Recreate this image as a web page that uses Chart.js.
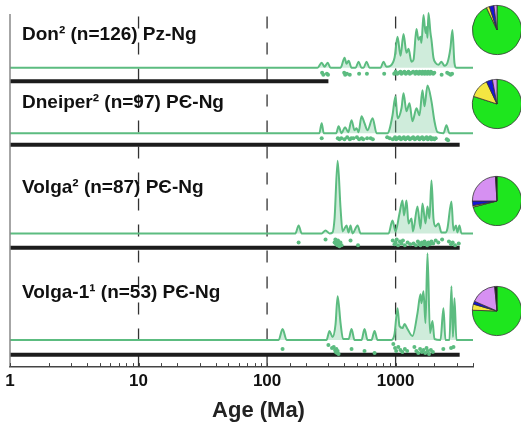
<!DOCTYPE html>
<html>
<head>
<meta charset="utf-8">
<script src="https://cdn.jsdelivr.net/npm/chart.js@4.4.1/dist/chart.umd.min.js"></script>
<style>
  html, body { margin: 0; padding: 0; background: #fff; overflow: hidden; }
  #wrap { position: relative; width: 521px; height: 427px; overflow: hidden; }
  #wrap canvas.pie { position: absolute; }
</style>
</head>
<body>
<div id="wrap">
  <canvas id="myChart" width="521" height="427"></canvas>
</div>
<script>
// panel titles, top to bottom
const panelNames = ['Don² (n=126) Pz-Ng', 'Dneiper² (n=97) PЄ-Ng', 'Volga² (n=87) PЄ-Ng', 'Volga-1¹ (n=53) PЄ-Ng'];
const axisTitle = 'Age (Ma)';

// age tick labels on the log axis
const ageLabels = [1, 10, 100, 1000];

// density curves: [age Ma, relative height]
const donCurve = [[1,0],[247,0],[266,5],[280,1],[296,5],[312,0],[373,0],[401,10],[415,4],[431,7],[454,0],[488,0],[515,6],[543,0],[563,0],[594,6],[627,0],[763,0],[805,6],[850,1],[913,2],[981,10],[1035,31],[1092,12],[1152,34],[1215,15],[1260,19],[1329,6],[1378,8],[1453,39],[1507,28],[1561,31],[1589,25],[1648,53],[1708,35],[1739,41],[1770,30],[1801,55],[1867,35],[1901,28],[1970,10],[2042,5],[2154,3],[2273,6],[2399,2],[2531,5],[2671,20],[2767,38],[2869,5],[2973,0],[4000,0]];
const dneiperCurve = [[1,0],[255,0],[266,10],[276,0],[345,0],[360,7],[380,0],[404,6],[428,1],[454,13],[479,3],[497,5],[515,1],[543,17],[573,10],[605,3],[662,15],[712,0],[865,0],[897,4],[946,18],[998,37],[1035,15],[1111,25],[1152,40],[1215,22],[1282,30],[1353,12],[1453,25],[1533,18],[1618,43],[1677,27],[1770,48],[1901,32],[2006,12],[2117,1],[2356,0],[2486,8],[2623,0],[4000,0]];
const volgaCurve = [[1,0],[166,0],[176,8],[186,0],[266,0],[285,3],[306,0],[323,1],[335,15],[354,73],[373,25],[387,2],[415,8],[431,1],[446,8],[462,0],[506,8],[534,0],[881,0],[946,13],[998,2],[1072,20],[1131,33],[1162,18],[1215,33],[1260,10],[1329,15],[1365,2],[1480,27],[1561,5],[1618,30],[1708,10],[1770,27],[1834,15],[1901,53],[1970,15],[2042,7],[2154,10],[2273,1],[2442,1],[2531,5],[2719,32],[2819,3],[2947,8],[3027,1],[3137,8],[3252,0],[4000,0]];
const volga1Curve = [[1,0],[123,0],[132,11],[142,0],[290,0],[306,9],[323,3],[341,16],[354,44],[373,17],[390,1],[431,1],[454,11],[479,0],[543,0],[573,11],[605,0],[649,0],[686,9],[723,0],[929,0],[981,6],[1035,32],[1072,14],[1131,12],[1173,16],[1237,11],[1353,4],[1480,27],[1561,46],[1589,37],[1648,49],[1708,17],[1770,87],[1851,7],[1935,19],[2006,1],[2233,0],[2356,32],[2442,0],[2623,0],[2719,54],[2793,3],[2869,42],[2973,0],[4000,0]];

// individual grain ages: [age Ma, drop below the curve baseline]
const donAges = [[268,5],[274,7],[292,6],[298,7],[398,5],[405,7],[418,6],[440,7],[520,6],[598,6],[815,6],[975,6],[1000,4],[1030,6],[1060,5],[1090,4],[1110,6],[1140,5],[1170,4],[1200,6],[1230,5],[1260,4],[1290,6],[1330,5],[1370,4],[1420,6],[1450,4],[1480,5],[1510,6],[1540,4],[1570,5],[1600,6],[1620,4],[1650,5],[1680,6],[1700,4],[1730,5],[1760,6],[1790,4],[1820,5],[1850,6],[1880,4],[1920,5],[1960,6],[2000,5],[2280,7],[2520,5],[2600,6],[2680,7],[2750,6]];
const dneiperAges = [[266,5],[355,5],[365,6],[378,5],[400,6],[420,4],[440,6],[452,5],[470,5],[500,4],[520,6],[545,5],[560,6],[600,5],[640,5],[665,6],[860,4],[900,5],[950,6],[990,4],[1010,6],[1040,5],[1070,4],[1100,6],[1130,5],[1160,4],[1190,6],[1220,5],[1250,4],[1290,6],[1330,5],[1370,4],[1410,6],[1450,5],[1490,4],[1530,6],[1570,5],[1610,4],[1650,6],[1700,5],[1740,4],[1780,6],[1820,5],[1860,4],[1900,6],[1950,5],[2000,6],[2050,5],[2500,6],[2560,7]];
const volgaAges = [[176,9],[285,6],[335,9],[340,6],[345,11],[348,8],[352,12],[356,7],[360,10],[365,13],[372,9],[380,12],[446,7],[510,12],[950,7],[980,11],[1000,9],[1020,6],[1045,12],[1080,8],[1110,10],[1140,7],[1180,12],[1240,9],[1300,11],[1380,10],[1440,12],[1490,8],[1530,10],[1560,12],[1600,9],[1640,11],[1680,8],[1720,10],[1760,12],[1800,9],[1850,11],[1900,8],[1960,10],[2050,7],[2150,9],[2300,6],[2600,8],[2700,11],[2780,9],[2900,12],[3100,10]];
const volga1Ages = [[132,9],[300,5],[320,8],[330,7],[338,10],[342,12],[346,9],[350,13],[354,11],[360,14],[454,9],[573,11],[686,13],[960,4],[990,8],[1010,11],[1050,7],[1090,10],[1130,12],[1180,9],[1230,11],[1400,7],[1450,11],[1500,13],[1550,9],[1600,12],[1650,10],[1700,13],[1740,8],[1780,11],[1820,14],[1880,10],[1950,12],[2350,9],[2700,8],[2820,7]];

// age range bars under each panel (Ma)
const barEnds = [300, 3150, 3150, 3150];

// source pies
const pieLabels = ['green', 'yellow', 'blue', 'violet', 'black'];
const donPie = [93, 2, 3, 2, 0];
const dneiperPie = [80, 13, 4, 3, 0];
const volgaPie = [71, 1, 3, 24, 1];
const volga1Pie = [75.5, 4, 2, 17, 1.5];

const curves = [donCurve, dneiperCurve, volgaCurve, volga1Curve];
const ages = [donAges, dneiperAges, volgaAges, volga1Ages];
const pies = [donPie, dneiperPie, volgaPie, volga1Pie];

// layout (y units of the hidden vertical scale)
const baseY = [300, 234.3, 133.7, 26.7];
const barY = [286.5, 222.7, 119.3, 12];
const labelY = [327.7, 260, 174.3, 69.3];
const pieTop = [4, 78, 175, 285];

const lineGreen = 'rgb(92,188,128)';
const fillGreen = 'rgba(110,196,145,0.33)';
const pieColors = ['#1ee61e', '#f4e642', '#1414d6', '#d690f2', '#1a1a1a'];

const datasets = [];
datasets.push({ data: [{x: 1, y: 0}, {x: 1, y: 354}], borderColor: '#888', borderWidth: 1.5, pointRadius: 0, clip: false, order: 0 });
curves.forEach(function (c, i) {
    datasets.push({
        data: c.map(p => ({x: p[0], y: baseY[i] + p[1]})),
        borderColor: lineGreen, borderWidth: 2, backgroundColor: fillGreen,
        fill: {value: baseY[i]}, pointRadius: 0, cubicInterpolationMode: 'monotone', order: 2
    });
    datasets.push({
        data: ages[i].map(p => ({x: p[0], y: baseY[i] - p[1]})),
        showLine: false, pointRadius: 2, pointBorderWidth: 0, pointBackgroundColor: lineGreen, order: 1
    });
    datasets.push({
        data: [{x: 1, y: barY[i]}, {x: barEnds[i], y: barY[i]}],
        borderColor: '#1c1c1c', borderWidth: 4, pointRadius: 0, order: 3
    });
});
[10, 100, 1000].forEach(function (v) {
    datasets.push({ data: [{x: v, y: 0}, {x: v, y: 364}], borderColor: '#333', borderWidth: 1.3, borderDash: [12, 14], pointRadius: 0, order: 5 });
});

const panelText = {
    id: 'panelText',
    afterDraw(chart) {
        const {ctx, chartArea, scales: {x, y}} = chart;
        ctx.save();
        ctx.fillStyle = '#111';
        ctx.font = 'bold 19px "Liberation Sans", Arial, sans-serif';
        ctx.textBaseline = 'alphabetic';
        panelNames.forEach((t, i) => ctx.fillText(t, chartArea.left + 12, y.getPixelForValue(labelY[i])));
        // axis title, sits a little right of centre as in the source figure
        ctx.fillStyle = '#222';
        ctx.font = 'bold 22px "Liberation Sans", Arial, sans-serif';
        ctx.textAlign = 'center';
        ctx.textBaseline = 'middle';
        ctx.fillText(axisTitle, (chartArea.left + chartArea.right) / 2 + 17, chartArea.bottom + 44);
        // small tick marks pointing up from the axis
        ctx.strokeStyle = '#444';
        ctx.lineWidth = 1;
        x.ticks.forEach(function (t) {
            const px = Math.round(x.getPixelForValue(t.value)) + 0.5;
            ctx.beginPath();
            ctx.moveTo(px, chartArea.bottom);
            ctx.lineTo(px, chartArea.bottom - 3.5);
            ctx.stroke();
        });
        ctx.restore();
    }
};

const ctx = document.getElementById('myChart').getContext('2d');
chart = new Chart(ctx, {
    type: 'line',
    data: { datasets: datasets },
    plugins: [panelText],
    options: {
        responsive: false,
        animation: false,
        devicePixelRatio: 1,
        layout: { padding: { top: 2, left: 10, right: 48, bottom: 30 } },
        plugins: { legend: { display: false }, tooltip: { enabled: false } },
        scales: {
            x: {
                type: 'logarithmic',
                min: 1,
                max: 4000,
                border: { display: true, color: '#444', width: 1.5 },
                grid: { display: false, drawTicks: false },
                ticks: {
                    autoSkip: false,
                    maxRotation: 0,
                    padding: 5,
                    color: '#111',
                    font: { family: 'Liberation Sans', weight: 'bold', size: 17 },
                    callback: function (value) {
                        return ageLabels.includes(value) ? String(value) : '';
                    }
                }
            },
            y: { display: false, min: 0, max: 364 }
        }
    }
});

const wrap = document.getElementById('wrap');
pies.forEach(function (p, i) {
    const c = document.createElement('canvas');
    c.className = 'pie';
    c.width = 52;
    c.height = 52;
    c.style.left = '471px';
    c.style.top = pieTop[i] + 'px';
    wrap.appendChild(c);
    new Chart(c, {
        type: 'pie',
        data: { labels: pieLabels, datasets: [{ data: p, backgroundColor: pieColors, borderColor: '#333', borderWidth: 0.8 }] },
        options: {
            responsive: false, animation: false, devicePixelRatio: 1,
            layout: { padding: 1 },
            plugins: { legend: { display: false }, tooltip: { enabled: false } }
        }
    });
});
</script>
</body>
</html>
